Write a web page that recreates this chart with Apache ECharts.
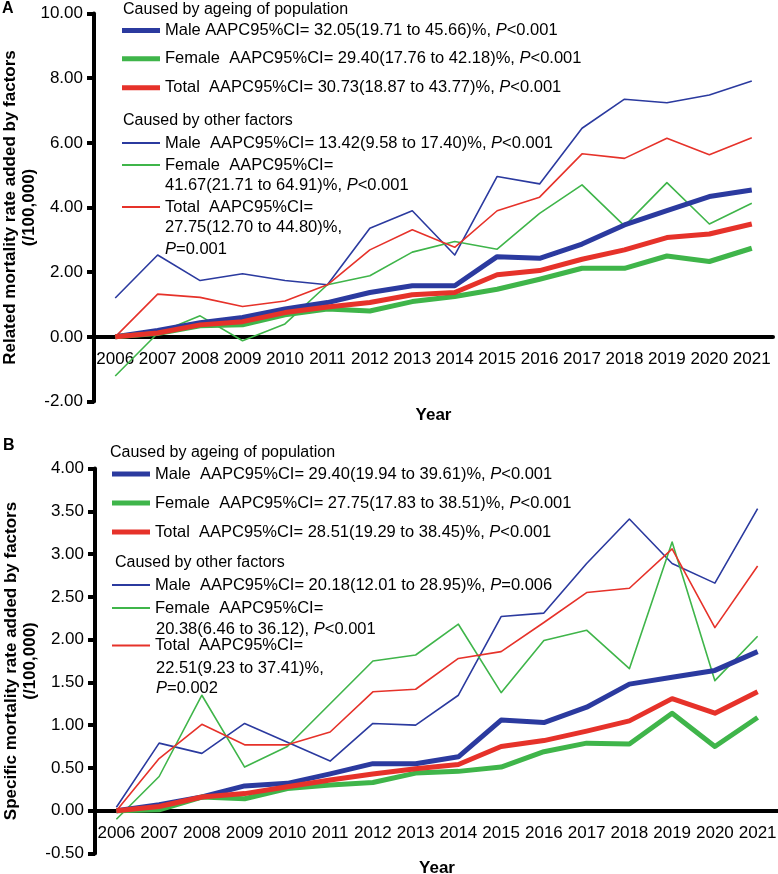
<!DOCTYPE html>
<html>
<head>
<meta charset="utf-8">
<title>Mortality rate added by factors</title>
<script src="https://cdn.jsdelivr.net/npm/echarts@6/dist/echarts.min.js"></script>
<style>
    html, body { margin: 0; padding: 0; background: #fff; }
    #chart { width: 778px; height: 874px; }
</style>
</head>
<body>
<div id="chart"></div>
<script>
    // data
    var years = ['2006', '2007', '2008', '2009', '2010', '2011', '2012', '2013',
                 '2014', '2015', '2016', '2017', '2018', '2019', '2020', '2021'];

    // panel A: related mortality rate
    var aAgeMale   = [0, 0.2, 0.44, 0.6, 0.86, 1.06, 1.37, 1.58, 1.58, 2.48, 2.43, 2.87, 3.46, 3.9, 4.34, 4.54];
    var aAgeFemale = [0, 0.1, 0.34, 0.37, 0.68, 0.86, 0.8, 1.09, 1.25, 1.47, 1.78, 2.12, 2.12, 2.5, 2.33, 2.74];
    var aAgeTotal  = [0, 0.12, 0.37, 0.47, 0.75, 0.92, 1.06, 1.3, 1.37, 1.92, 2.05, 2.4, 2.69, 3.07, 3.18, 3.49];
    var aOthMale   = [1.2, 2.53, 1.74, 1.95, 1.74, 1.61, 3.36, 3.9, 2.53, 4.96, 4.73, 6.45, 7.35, 7.24, 7.48, 7.91];
    var aOthFemale = [-1.21, 0.11, 0.65, -0.12, 0.4, 1.61, 1.89, 2.62, 2.95, 2.71, 3.82, 4.7, 3.43, 4.77, 3.49, 4.13];
    var aOthTotal  = [0, 1.32, 1.22, 0.94, 1.11, 1.61, 2.69, 3.31, 2.77, 3.9, 4.32, 5.66, 5.52, 6.14, 5.63, 6.16];

    // panel B: specific mortality rate
    var bAgeMale   = [0, 0.07, 0.16, 0.29, 0.32, 0.43, 0.55, 0.55, 0.63, 1.06, 1.03, 1.21, 1.48, 1.56, 1.64, 1.86];
    var bAgeFemale = [0, 0.01, 0.16, 0.14, 0.26, 0.3, 0.33, 0.44, 0.46, 0.51, 0.69, 0.79, 0.78, 1.14, 0.75, 1.09];
    var bAgeTotal  = [0, 0.05, 0.16, 0.2, 0.28, 0.36, 0.43, 0.49, 0.54, 0.75, 0.82, 0.93, 1.05, 1.31, 1.14, 1.39];
    var bOthMale   = [0.04, 0.79, 0.67, 1.02, 0.8, 0.58, 1.02, 1.0, 1.35, 2.27, 2.31, 2.89, 3.41, 2.89, 2.66, 3.53];
    var bOthFemale = [-0.1, 0.4, 1.35, 0.51, 0.75, 1.25, 1.75, 1.82, 2.18, 1.38, 1.99, 2.11, 1.66, 3.14, 1.52, 2.04];
    var bOthTotal  = [0, 0.61, 1.01, 0.77, 0.77, 0.92, 1.39, 1.42, 1.78, 1.86, 2.2, 2.55, 2.6, 3.06, 2.14, 2.86];

    // y tick values
    var aTicks = [-2, 0, 2, 4, 6, 8, 10];
    var bTicks = [-0.5, 0, 0.5, 1, 1.5, 2, 2.5, 3, 3.5, 4];

    // legend texts ({i|P} = italic P)
    var labels = {
        A_age_M: 'Male AAPC95%CI= 32.05(19.71 to 45.66)%, {i|P}<0.001',
        A_age_F: 'Female  AAPC95%CI= 29.40(17.76 to 42.18)%, {i|P}<0.001',
        A_age_T: 'Total  AAPC95%CI= 30.73(18.87 to 43.77)%, {i|P}<0.001',
        A_oth_M: 'Male  AAPC95%CI= 13.42(9.58 to 17.40)%, {i|P}<0.001',
        A_oth_F: 'Female  AAPC95%CI=',
        A_oth_T: 'Total  AAPC95%CI=',
        B_age_M: 'Male  AAPC95%CI= 29.40(19.94 to 39.61)%, {i|P}<0.001',
        B_age_F: 'Female  AAPC95%CI= 27.75(17.83 to 38.51)%, {i|P}<0.001',
        B_age_T: 'Total  AAPC95%CI= 28.51(19.29 to 38.45)%, {i|P}<0.001',
        B_oth_M: 'Male  AAPC95%CI= 20.18(12.01 to 28.95)%, {i|P}=0.006',
        B_oth_F: 'Female  AAPC95%CI=',
        B_oth_T: 'Total  AAPC95%CI='
    };

    var FONT = '"Liberation Sans", Arial, sans-serif';
    var BLUE = '#2b3a9f', GREEN = '#3fb54a', RED = '#e6322a';
    var LSIZE = 16.5;
    var rich = {
        i: { fontStyle: 'italic', fontSize: LSIZE, fontFamily: FONT, color: '#000', lineHeight: 20 }
    };

    // grid boxes
    var gridA = { left: 94, top: 13.5, width: 679, height: 388 };
    var gridB = { left: 95, top: 468.5, width: 684, height: 385 };

    var chart = echarts.init(document.getElementById('chart'));

    function line(name, data, idx, color, thick) {
        return {
            name: name,
            type: 'line',
            xAxisIndex: idx,
            yAxisIndex: idx,
            data: data,
            symbol: 'none',
            lineStyle: { color: color, width: thick ? 5 : 1.6, join: 'round' },
            itemStyle: { color: color },
            z: thick ? 3 : 2,
            silent: true
        };
    }

    function legendItem(name, left, cy, thick) {
        return {
            data: [{ name: name, icon: 'rect' }],
            left: left,
            top: cy - 10,
            padding: 0,
            itemWidth: 38,
            itemHeight: thick ? 5 : 2,
            selectedMode: false,
            formatter: function (n) { return labels[n]; },
            textStyle: { fontSize: LSIZE, fontFamily: FONT, color: '#000', lineHeight: 20, rich: rich }
        };
    }

    function text(str, left, cy, extra) {
        var ts = { fontSize: LSIZE, fontFamily: FONT, color: '#000', fontWeight: 'normal', lineHeight: 20, rich: rich };
        if (extra) { for (var k in extra) ts[k] = extra[k]; }
        return { text: str, left: left, top: cy - 10, padding: 0, textStyle: ts };
    }

    // x axis sits on y = 0: shift it up from the grid bottom
    function xAx(idx, gap, ticks, grid) {
        var lo = ticks[0], hi = ticks[ticks.length - 1];
        return {
            type: 'category',
            gridIndex: idx,
            data: years,
            boundaryGap: true,
            offset: -grid.height * (0 - lo) / (hi - lo),
            name: 'Year',
            nameLocation: 'middle',
            nameGap: gap,
            nameMoveOverlap: false,
            nameTextStyle: { fontSize: 17, fontWeight: 'bold', fontFamily: FONT, color: '#000' },
            axisLine: { onZero: false, lineStyle: { color: '#000', width: 4 } },
            axisTick: { alignWithLabel: true, length: 7, lineStyle: { color: '#000', width: 4 } },
            axisLabel: { interval: 0, fontSize: 17, fontFamily: FONT, color: '#000', margin: 14 },
            splitLine: { show: false }
        };
    }

    function yAx(idx, ticks, name) {
        return {
            type: 'value',
            gridIndex: idx,
            min: ticks[0],
            max: ticks[ticks.length - 1],
            interval: ticks[1] - ticks[0],
            name: name,
            nameLocation: 'middle',
            nameGap: 55,
            nameMoveOverlap: false,
            nameTextStyle: { fontSize: 17, fontWeight: 'bold', fontFamily: FONT, color: '#000', lineHeight: 19 },
            axisLine: { show: true, onZero: false, lineStyle: { color: '#000', width: 4 } },
            axisTick: { show: true, length: 7, lineStyle: { color: '#000', width: 4 } },
            axisLabel: {
                fontSize: 17, fontFamily: FONT, color: '#000', margin: 11,
                formatter: function (v) { return v.toFixed(2); }
            },
            splitLine: { show: false }
        };
    }

    var option = {
        backgroundColor: '#fff',
        animation: false,
        grid: [
            Object.assign({ outerBoundsMode: 'none', containLabel: false }, gridA),
            Object.assign({ outerBoundsMode: 'none', containLabel: false }, gridB)
        ],
        xAxis: [xAx(0, 70, aTicks, gridA), xAx(1, 49, bTicks, gridB)],
        yAxis: [
            yAx(0, aTicks, 'Related mortality rate added by factors\n(/100,000)'),
            yAx(1, bTicks, 'Specific mortality rate added by factors\n(/100,000)')
        ],
        title: [
            text('A', 2, 9, { fontWeight: 'bold', fontSize: 16 }),
            text('B', 3, 446, { fontWeight: 'bold', fontSize: 16 }),
            text('Caused by ageing of population', 123, 9.5, { fontSize: 16 }),
            text('Caused by other factors', 123, 121, { fontSize: 16 }),
            text('41.67(21.71 to 64.91)%, {i|P}<0.001', 165, 185),
            text('27.75(12.70 to 44.80)%,', 165, 227),
            text('{i|P}=0.001', 165, 249),
            text('Caused by ageing of population', 110, 453, { fontSize: 16 }),
            text('Caused by other factors', 115, 563, { fontSize: 16 }),
            text('20.38(6.46 to 36.12), {i|P}<0.001', 156, 629),
            text('22.51(9.23 to 37.41)%,', 156, 668),
            text('{i|P}=0.002', 156, 688.5)
        ],
        legend: [
            legendItem('A_age_M', 122, 30.5, true),
            legendItem('A_age_F', 122, 58.7, true),
            legendItem('A_age_T', 122, 87.7, true),
            legendItem('A_oth_M', 122, 143, false),
            legendItem('A_oth_F', 122, 165, false),
            legendItem('A_oth_T', 122, 207, false),
            legendItem('B_age_M', 112, 474, true),
            legendItem('B_age_F', 112, 503, true),
            legendItem('B_age_T', 112, 532, true),
            legendItem('B_oth_M', 112, 585, false),
            legendItem('B_oth_F', 112, 608, false),
            legendItem('B_oth_T', 112, 645.5, false)
        ],
        series: [
            line('A_oth_M', aOthMale, 0, BLUE, false),
            line('A_oth_F', aOthFemale, 0, GREEN, false),
            line('A_oth_T', aOthTotal, 0, RED, false),
            line('A_age_M', aAgeMale, 0, BLUE, true),
            line('A_age_F', aAgeFemale, 0, GREEN, true),
            line('A_age_T', aAgeTotal, 0, RED, true),
            line('B_oth_M', bOthMale, 1, BLUE, false),
            line('B_oth_F', bOthFemale, 1, GREEN, false),
            line('B_oth_T', bOthTotal, 1, RED, false),
            line('B_age_M', bAgeMale, 1, BLUE, true),
            line('B_age_F', bAgeFemale, 1, GREEN, true),
            line('B_age_T', bAgeTotal, 1, RED, true)
        ]
    };
    chart.setOption(option);

    window.onresize = function () {
        chart.resize();
    };
</script>
</body>
</html>
